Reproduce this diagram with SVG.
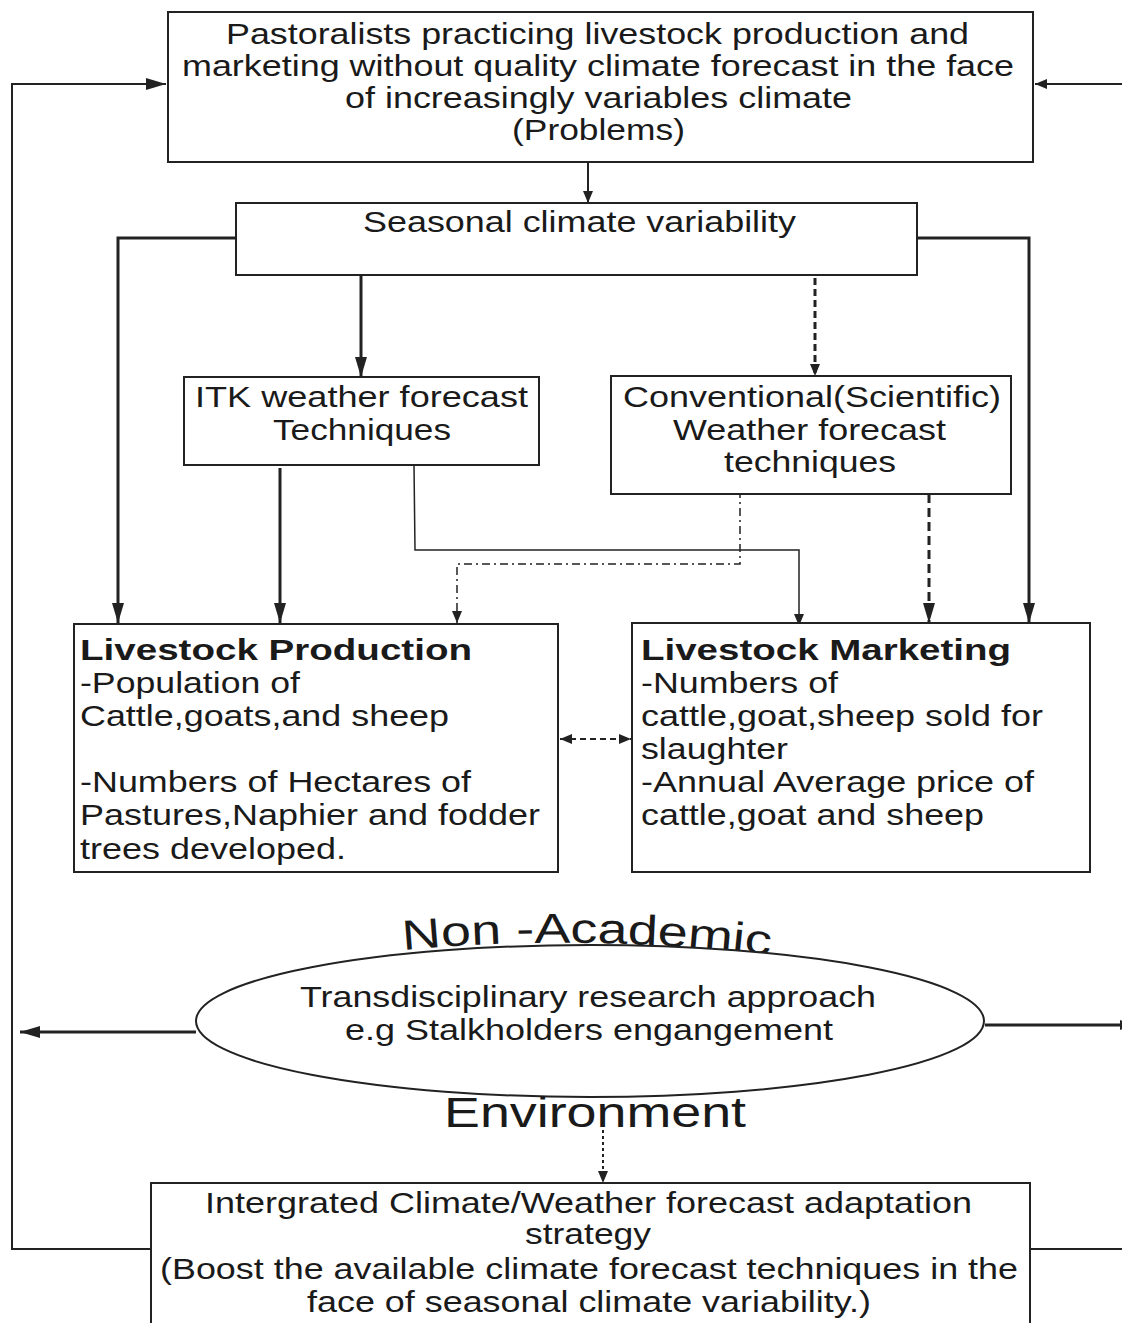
<svg xmlns="http://www.w3.org/2000/svg" width="1122" height="1323" viewBox="0 0 1122 1323">
<style>
  .box { fill: #fff; stroke: #222; stroke-width: 2; }
  .t { font-family: "Liberation Sans", Arial, sans-serif; font-size: 29px; fill: #1a1a1a; }
  .b { font-weight: bold; }
  .big { font-size: 42px; }
  .ln { fill: none; stroke: #222; }
  .thick { stroke-width: 3; }
  .mid { stroke-width: 2; }
  .thin { stroke-width: 1.5; }
</style>
<defs>
  <marker id="ah" viewBox="0 0 20 12" refX="20" refY="6" markerWidth="20" markerHeight="12" markerUnits="userSpaceOnUse" orient="auto-start-reverse">
    <path d="M0,0 L20,6 L0,12 z" fill="#222"/>
  </marker>
  <marker id="as" viewBox="0 0 12 10" refX="12" refY="5" markerWidth="12" markerHeight="10" markerUnits="userSpaceOnUse" orient="auto-start-reverse">
    <path d="M0,0 L12,5 L0,10 z" fill="#222"/>
  </marker>
  <path id="arc" d="M403,950 Q590,933 775,956"/>
</defs>

<g id="connectors">
  <path class="ln mid" d="M588,163 V203" marker-end="url(#as)"/>
  <path class="ln thick" d="M361,276 V377" marker-end="url(#ah)"/>
  <path class="ln thick" d="M815,278 V376" stroke-dasharray="7,4" marker-end="url(#as)"/>
  <path class="ln thick" d="M238,238 H118 V623" marker-end="url(#ah)"/>
  <path class="ln thick" d="M915,238 H1029 V623" marker-end="url(#ah)"/>
  <path class="ln thick" d="M280,468 V623" marker-end="url(#ah)"/>
  <path class="ln thin" d="M414,465 L415,550 H799 V626" marker-end="url(#as)"/>
  <path class="ln thin" d="M740,490 V564 H457 V623" stroke-dasharray="8,4,2,4" marker-end="url(#as)"/>
  <path class="ln thick" d="M929,494 V623" stroke-dasharray="9,5" marker-end="url(#ah)"/>
  <path class="ln mid" d="M560,739 H631" stroke-dasharray="6,4" marker-start="url(#as)" marker-end="url(#as)"/>
  <path class="ln mid" d="M151,1249 H12 V84 H166" marker-end="url(#ah)"/>
  <path class="ln mid" d="M1122,84 H1035" marker-end="url(#as)"/>
  <path class="ln mid" d="M1030,1249 H1122"/>
  <path class="ln thick" d="M196,1032 H20" marker-end="url(#ah)"/>
  <path class="ln thick" d="M985,1025 H1132" marker-end="url(#as)"/>
  <path class="ln mid" d="M603,1130 V1183" stroke-dasharray="3,3" marker-end="url(#as)"/>
</g>

<g id="problems">
  <rect class="box" x="168" y="12" width="865" height="150"/>
  <text class="t" x="226" y="44" textLength="743" lengthAdjust="spacingAndGlyphs">Pastoralists practicing livestock production and</text>
  <text class="t" x="182" y="76" textLength="832" lengthAdjust="spacingAndGlyphs">marketing without quality climate forecast in the face</text>
  <text class="t" x="345" y="108" textLength="507" lengthAdjust="spacingAndGlyphs">of increasingly variables climate</text>
  <text class="t" x="512" y="140" textLength="173" lengthAdjust="spacingAndGlyphs">(Problems)</text>
</g>

<g id="seasonal">
  <rect class="box" x="236" y="203" width="681" height="72"/>
  <text class="t" x="363" y="232" textLength="433" lengthAdjust="spacingAndGlyphs">Seasonal climate variability</text>
</g>

<g id="itk">
  <rect class="box" x="184" y="377" width="355" height="88"/>
  <text class="t" x="195" y="407" textLength="333" lengthAdjust="spacingAndGlyphs">ITK weather forecast</text>
  <text class="t" x="273" y="440" textLength="178" lengthAdjust="spacingAndGlyphs">Techniques</text>
</g>

<g id="conventional">
  <rect class="box" x="611" y="376" width="400" height="118"/>
  <text class="t" x="623" y="407" textLength="378" lengthAdjust="spacingAndGlyphs">Conventional(Scientific)</text>
  <text class="t" x="673" y="440" textLength="273" lengthAdjust="spacingAndGlyphs">Weather forecast</text>
  <text class="t" x="724" y="472" textLength="172" lengthAdjust="spacingAndGlyphs">techniques</text>
</g>

<g id="production">
  <rect class="box" x="74" y="624" width="484" height="248"/>
  <text class="t b" x="80" y="660" textLength="392" lengthAdjust="spacingAndGlyphs">Livestock Production</text>
  <text class="t" x="80" y="693" textLength="220" lengthAdjust="spacingAndGlyphs">-Population of</text>
  <text class="t" x="80" y="726" textLength="369" lengthAdjust="spacingAndGlyphs">Cattle,goats,and sheep</text>
  <text class="t" x="80" y="792" textLength="391" lengthAdjust="spacingAndGlyphs">-Numbers of Hectares of</text>
  <text class="t" x="80" y="825" textLength="460" lengthAdjust="spacingAndGlyphs">Pastures,Naphier and fodder</text>
  <text class="t" x="80" y="859" textLength="266" lengthAdjust="spacingAndGlyphs">trees developed.</text>
</g>

<g id="marketing">
  <rect class="box" x="632" y="623" width="458" height="249"/>
  <text class="t b" x="641" y="660" textLength="370" lengthAdjust="spacingAndGlyphs">Livestock Marketing</text>
  <text class="t" x="641" y="693" textLength="197" lengthAdjust="spacingAndGlyphs">-Numbers of</text>
  <text class="t" x="641" y="726" textLength="402" lengthAdjust="spacingAndGlyphs">cattle,goat,sheep sold for</text>
  <text class="t" x="641" y="759" textLength="147" lengthAdjust="spacingAndGlyphs">slaughter</text>
  <text class="t" x="641" y="792" textLength="393" lengthAdjust="spacingAndGlyphs">-Annual Average price of</text>
  <text class="t" x="641" y="825" textLength="343" lengthAdjust="spacingAndGlyphs">cattle,goat and sheep</text>
</g>

<g id="non-academic-label">
  <text class="t big"><textPath href="#arc" textLength="368" lengthAdjust="spacingAndGlyphs">Non -Academic</textPath></text>
</g>

<g id="transdisciplinary">
  <ellipse class="box" cx="590" cy="1021" rx="394" ry="76" stroke-width="1.5"/>
  <text class="t" x="300" y="1007" textLength="576" lengthAdjust="spacingAndGlyphs">Transdisciplinary research approach</text>
  <text class="t" x="345" y="1040" textLength="488" lengthAdjust="spacingAndGlyphs">e.g Stalkholders engangement</text>
</g>

<g id="environment-label">
  <text class="t big" x="444" y="1127" textLength="302" lengthAdjust="spacingAndGlyphs">Environment</text>
</g>

<g id="strategy">
  <rect class="box" x="151" y="1183" width="879" height="200"/>
  <text class="t" x="525" y="1244" textLength="126" lengthAdjust="spacingAndGlyphs">strategy</text>
  <text class="t" x="205" y="1213" textLength="767" lengthAdjust="spacingAndGlyphs">Intergrated Climate/Weather forecast adaptation</text>
  <text class="t" x="160" y="1279" textLength="858" lengthAdjust="spacingAndGlyphs">(Boost the available climate forecast techniques in the</text>
  <text class="t" x="307" y="1312" textLength="564" lengthAdjust="spacingAndGlyphs">face of seasonal climate variability.)</text>
</g>
</svg>
